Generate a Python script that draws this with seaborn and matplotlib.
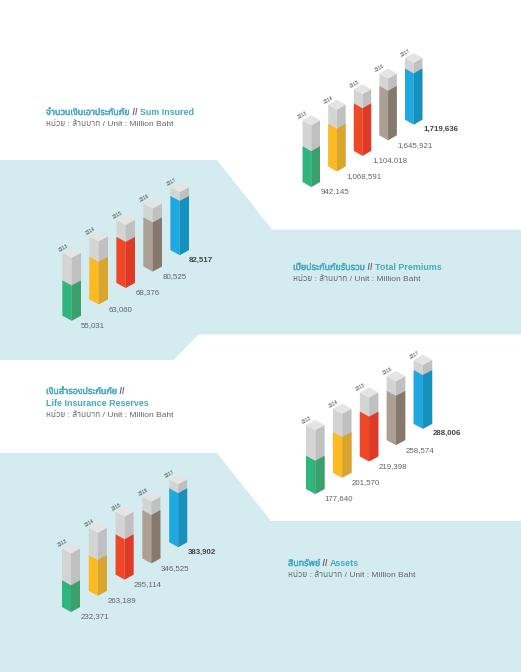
import matplotlib
matplotlib.use('Agg')

import matplotlib.pyplot as plt
from matplotlib import patheffects
from matplotlib.font_manager import fontManager
from matplotlib.ft2font import FT2Font
from matplotlib.transforms import Affine2D
import seaborn as sns

years = [2013, 2014, 2015, 2016, 2017]

sum_insured = ['942,145', '1,068,591', '1,104,018', '1,645,921', '1,719,636']
total_premiums = ['55,031', '63,060', '68,376', '80,525', '82,517']
reserves = ['177,640', '201,570', '219,398', '258,574', '288,006']
assets = ['232,371', '263,189', '295,114', '346,525', '383,902']

# how far each column is filled (1 = full column)
sum_insured_fill = [0.58, 0.69, 0.77, 0.80, 0.83]
total_premiums_fill = [0.56, 0.675, 0.73, 0.78, 0.86]
reserves_fill = [0.52, 0.635, 0.70, 0.77, 0.84]
assets_fill = [0.424, 0.567, 0.64, 0.767, 0.857]
assets_top = [0.93, 1.0, 1.0, 0.98, 1.0]

unit = 'หน่วย : ล้านบาท / Unit : Million Baht'

left_colors = ['#2fb67c', '#fdba21', '#ee4826', '#aca094', '#1eaae1']
right_colors = ['#3ca06e', '#d9a52d', '#de3a26', '#87786c', '#1691be']
grey_left = ['#d4d4d4'] * 5
grey_right = ['#c0c0c0'] * 5
grey_top = ['#e4e4e4'] * 5

W, H = 521, 672
BAND = '#d4ecf0'
TEAL = '#46a9bd'
TEXT = '#636466'
HEAD_SIZE = 6.4

# the named families have no Thai, so look for whichever installed font does
thai = sorted({f.name for f in fontManager.ttflist if 0x0E01 in FT2Font(f.fname).get_charmap()})

sns.set_theme(style='white')
plt.rcParams['font.family'] = ['Liberation Sans'] + thai[:1] + ['DejaVu Sans']

fig = plt.figure(figsize=(W / 100, H / 100), dpi=100)
page = fig.add_axes([0, 0, 1, 1])
page.set_xlim(0, W)
page.set_ylim(H, 0)
page.set_axis_off()

page.fill([0, 217, 272, 521, 521, 198.5, 173.5, 0], [160, 160, 229.5, 229.5, 334.5, 334.5, 360, 360], color=BAND, lw=0)
page.fill([0, 217, 271, 521, 521, 0], [453, 453, 521, 521, 672, 672], color=BAND, lw=0)


def draw_faces(ax, x, y, colors, origin, u, v):
    first = len(ax.patches)
    sns.barplot(x=x, y=y, hue=years, palette=colors, orient='x', native_scale=True, dodge=False,
                width=ax.half_width, saturation=1, errorbar=None, legend=False, linewidth=0, ax=ax)
    for yr, patch in zip(years, ax.patches[first:]):
        ox, oy = origin(yr)
        # u is the bar's bottom edge, v its side
        skew = Affine2D.from_values(u[0], u[1], v[0], v[1], ox - u[0] * yr, oy - u[1] * yr)
        patch.set_transform(skew + ax.transData)
        patch.set_clip_on(False)


def draw_panel(base, step, half_w, rise, col_h, fill, values, top=None):
    x0, y0 = base
    ax = fig.add_axes([x0 / W, 1 - y0 / H, step[0] / W, col_h / H])
    ax.set_axis_off()
    ax.half_width = half_w / step[0]
    hw = ax.half_width
    k = (rise / col_h) / hw
    climb = step[1] / col_h
    tops = top or [1.0] * 5

    def foot(yr):
        return yr, climb * (yr - years[0])

    def head(yr):
        return yr, climb * (yr - years[0]) + tops[years.index(yr)]

    left_x = [yr - hw / 2 for yr in years]
    right_x = [yr + hw / 2 for yr in years]
    draw_faces(ax, left_x, tops, grey_left, foot, (1, -k), (0, 1))
    draw_faces(ax, right_x, tops, grey_right, foot, (1, k), (0, 1))
    draw_faces(ax, right_x, [hw] * 5, grey_top, head, (1, k), (-1, k))
    draw_faces(ax, left_x, fill, left_colors, foot, (1, -k), (0, 1))
    draw_faces(ax, right_x, fill, right_colors, foot, (1, k), (0, 1))

    ax.set_xlim(years[0], years[0] + 1)
    ax.set_ylim(0, 1)

    for i, yr in enumerate(years):
        last = i == len(years) - 1
        ax.annotate(values[i], xy=foot(yr), xytext=(9.5, -5), textcoords='offset pixels', va='center',
                    fontsize=5.7, color='#444444' if last else TEXT, fontweight='bold' if last else 'normal',
                    annotation_clip=False)
        hx, hy = head(yr)
        ax.annotate(str(yr), xy=(hx, hy + 2 * k * hw), xytext=(-8.3, 0), textcoords='offset pixels',
                    ha='center', va='center', rotation=30, fontsize=3.4, color='#444444', annotation_clip=False)


def heading(x, y, lines):
    style = dict(color=TEAL, fontsize=HEAD_SIZE, fontweight='bold')
    # the Thai font has no bold weight here, a thin stroke stands in for it
    heavy = [patheffects.withStroke(linewidth=0.35, foreground=TEAL)]
    for i, (thai_part, eng) in enumerate(lines):
        if thai_part:
            t = page.text(x, y + i * 13 + 0.5, thai_part, va='center', path_effects=heavy, **style)
            a = page.annotate(' /', xy=(1, 0), xycoords=t, va='bottom', **{**style, 'color': '#2b6f9e'})
            b = page.annotate('/ ', xy=(1, 0), xycoords=a, va='bottom', **{**style, 'color': '#d9432f'})
            if eng:
                page.annotate(eng, xy=(1, 0), xycoords=b, va='bottom', **style)
        else:
            page.text(x, y + i * 13, eng, va='center', **style)
    page.text(x, y + len(lines) * 12.3, unit, color=TEXT, fontsize=6, va='center')


draw_panel((311.3, 187), (25.6, 15.6), 8.7, 5, 61.7, sum_insured_fill, sum_insured)
draw_panel((71.7, 320.7), (27, 16.4), 9.3, 5, 63, total_premiums_fill, total_premiums)
draw_panel((315.3, 494), (26.9, 16.3), 9.3, 5, 64, reserves_fill, reserves)
draw_panel((71, 612), (26.8, 16.2), 9, 5, 63, assets_fill, assets, assets_top)

heading(46, 112, [('จำนวนเงินเอาประกันภัย', 'Sum Insured')])
heading(293, 267, [('เบี้ยประกันภัยรับรวม', 'Total Premiums')])
heading(46, 391, [('เงินสำรองประกันภัย', ''), ('', 'Life Insurance Reserves')])
heading(288, 563, [('สินทรัพย์', 'Assets')])

fig.savefig('out.png', dpi=100)
